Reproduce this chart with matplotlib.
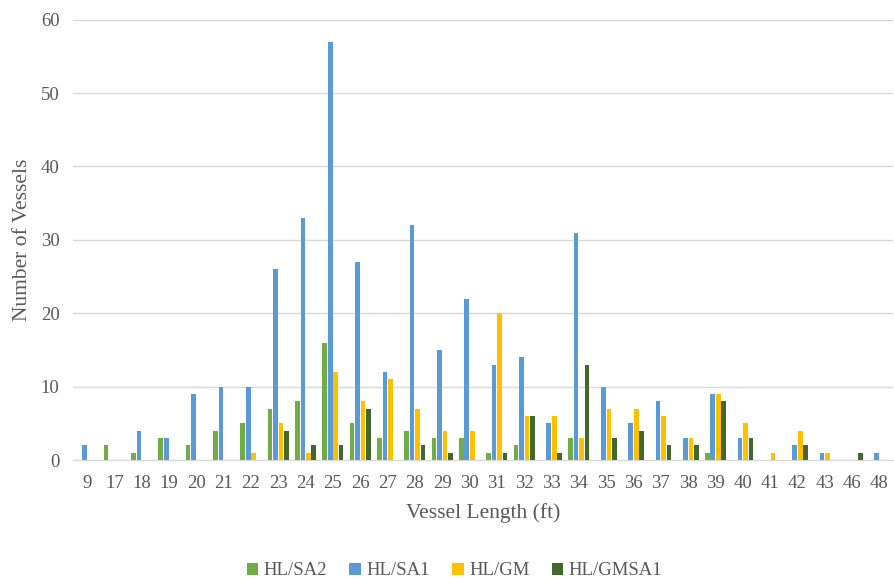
import numpy as np
from matplotlib import pyplot as plt

lengths = ['9', '17', '18', '19', '20', '21', '22', '23', '24', '25', '26', '27', '28', '29', '30',
           '31', '32', '33', '34', '35', '36', '37', '38', '39', '40', '41', '42', '43', '46', '48']
hl_sa2 = [0, 2, 1, 3, 2, 4, 5, 7, 8, 16, 5, 3, 4, 3, 3, 1, 2, 0, 3, 0, 0, 0, 0, 1, 0, 0, 0, 0, 0, 0]
hl_sa1 = [2, 0, 4, 3, 9, 10, 10, 26, 33, 57, 27, 12, 32, 15, 22, 13, 14, 5, 31, 10, 5, 8, 3, 9, 3, 0, 2, 1, 0, 1]
hl_gm = [0, 0, 0, 0, 0, 0, 1, 5, 1, 12, 8, 11, 7, 4, 4, 20, 6, 6, 3, 7, 7, 6, 3, 9, 5, 1, 4, 1, 0, 0]
hl_gmsa1 = [0, 0, 0, 0, 0, 0, 0, 4, 2, 2, 7, 0, 2, 1, 0, 1, 6, 1, 13, 3, 4, 2, 2, 8, 3, 0, 2, 0, 1, 0]

series = [('HL/SA2', hl_sa2, '#70AD47'), ('HL/SA1', hl_sa1, '#5B9BD5'),
          ('HL/GM', hl_gm, '#FFC000'), ('HL/GMSA1', hl_gmsa1, '#43682B')]

plt.rcParams['font.family'] = ['Liberation Serif', 'DejaVu Serif']
fig = plt.figure(figsize=(8.94, 5.78), dpi=100)
ax = fig.add_axes([0.082, 0.204, 0.917, 0.762])

x = np.arange(len(lengths))
w = 0.17
step = 0.2
for i, (name, vals, col) in enumerate(series):
    ax.bar(x + (i - 1.5) * step, vals, width=w, color=col, label=name, zorder=3)

ax.set_xlim(-0.5, len(lengths) - 0.5)
ax.set_ylim(0, 60)
ax.set_yticks(range(0, 61, 10))
ax.set_xticks(x)
ax.set_xticklabels(lengths)
ax.grid(axis='y', color='#D9D9D9', linewidth=1, zorder=0)
for s in ['top', 'right', 'left']:
    ax.spines[s].set_visible(False)
ax.spines['bottom'].set_color('#D9D9D9')
ax.tick_params(axis='both', length=0, labelsize=13.5, colors='#595959')
ax.tick_params(axis='x', pad=11)
ax.tick_params(axis='y', pad=10)
ax.set_xlabel('Vessel Length (ft)', fontsize=15.5, color='#595959', labelpad=8)
ax.set_ylabel('Number of Vessels', fontsize=15.5, color='#595959', labelpad=6)

leg = ax.legend(loc='upper center', bbox_to_anchor=(0.465, -0.194), ncol=4, frameon=False,
                fontsize=13.5, handlelength=0.6, handleheight=0.6, columnspacing=1.2, handletextpad=0.3)
for t in leg.get_texts():
    t.set_color('#595959')

plt.savefig('out.png', dpi=100)
